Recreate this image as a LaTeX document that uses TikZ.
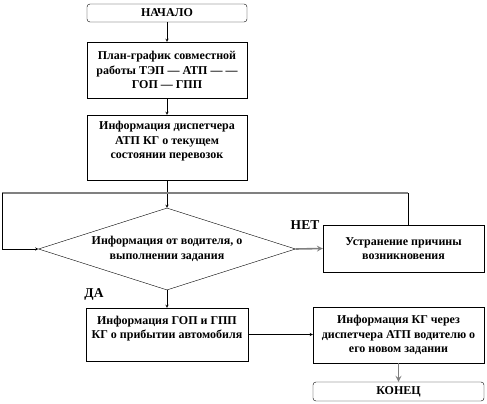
\documentclass[tikz,border=0pt]{standalone}
\usepackage{fontspec}
\setmainfont{Liberation Serif}
\usetikzlibrary{shapes.geometric}

\begin{document}
\begin{tikzpicture}[x=1pt,y=-1pt,>=stealth,font=\bfseries\fontsize{12}{14.5}\selectfont,
    box/.style={draw,align=center,inner sep=1pt},
    term/.style={draw,rounded corners=3pt,align=center,inner sep=1pt},
    grayline/.style={draw=gray,line width=1.6pt}]
    \useasboundingbox (0,0) rectangle (487,404);
    \node[term,minimum width=160,minimum height=18] (start) at (167,13) {НАЧАЛО};
    \node[box,minimum width=160,minimum height=56] (plan) at (167,70) {План-график совместной\\ работы ТЭП — АТП — —\\ ГОП — ГПП};
    \node[box,minimum width=160,minimum height=65] (disp) at (167,147.5) {Информация диспетчера\\ АТП КГ о текущем\\ состоянии перевозок\\ ~};
    \node[diamond,draw,aspect=3.13,inner sep=0pt,minimum width=257,minimum height=82,align=center] (check) at (167,249) {Информация от водителя, о\\ выполнении задания};
    \node[box,minimum width=161,minimum height=47] (fix) at (403.5,248.5) {Устранение причины\\ возникновения};
    \node[box,minimum width=162,minimum height=53] (arrive) at (167,334.5) {Информация ГОП и ГПП\\ КГ о прибытии автомобиля\\ ~};
    \node[box,minimum width=171,minimum height=56] (task) at (398.5,335) {Информация КГ через\\ диспетчера АТП водителю о\\ его новом задании};
    \node[term,minimum width=171,minimum height=19] (stop) at (398.5,391.5) {КОНЕЦ};
    \node[font=\bfseries\fontsize{13.5}{15}\selectfont] (no) at (305,225) {НЕТ};
    \node[font=\bfseries\fontsize{13.5}{15}\selectfont] (yes) at (94,294) {ДА};
    \coordinate (loopR) at (408,193);
    \coordinate (loopL) at (2,193);
    \draw[->] (start) -- (plan);
    \draw[->] (plan) -- (disp);
    \draw[->] (disp) -- (check);
    \draw (fix.north -| loopR) -- (loopR);
    \draw[grayline] (loopR) -- (loopL);
    \draw[->] (loopL) |- (check.west);
    \draw[grayline,->] (check.east) -- (fix.west);
    \draw[->] (check.south) -- (arrive.north);
    \draw[->] (arrive.east) -- (arrive.east -| task.west);
    \draw[grayline,->] (task.south) -- (stop.north);
\end{tikzpicture}
\end{document}
